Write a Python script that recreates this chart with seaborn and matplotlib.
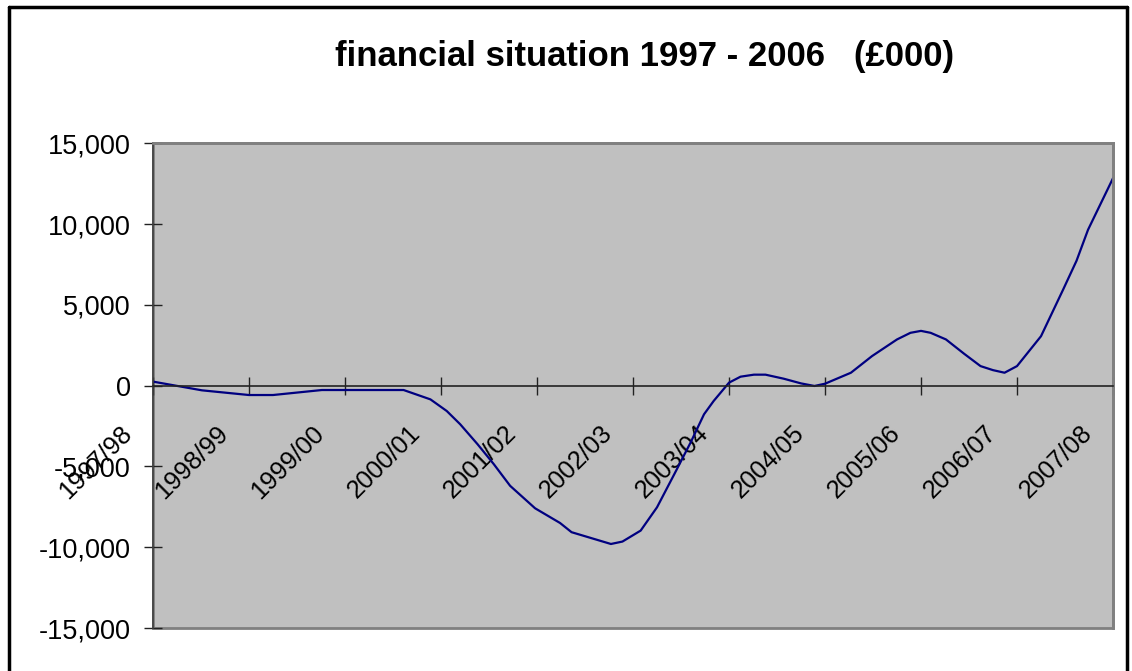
import matplotlib
matplotlib.use("Agg")
import matplotlib.pyplot as plt
import matplotlib.transforms as mtransforms
from matplotlib.lines import Line2D
from matplotlib.patches import Rectangle
from matplotlib.ticker import FuncFormatter
import seaborn as sns

# category labels (one per financial year)
years = ["1997/98", "1998/99", "1999/00", "2000/01", "2001/02", "2002/03",
         "2003/04", "2004/05", "2005/06", "2006/07", "2007/08"]

# points (position in years from 1997/98, £000)
pos = [0.00, 0.51, 1.00, 1.25, 1.76, 2.00, 2.61, 2.89, 3.06, 3.20, 3.38,
       3.55, 3.72, 3.98, 4.24, 4.36, 4.77, 4.89, 5.08, 5.25, 5.43, 5.60,
       5.74, 5.84, 6.00, 6.12, 6.26, 6.38, 6.57, 6.75, 6.89, 7.00, 7.27,
       7.49, 7.75, 7.89, 8.00, 8.10, 8.26, 8.45, 8.62, 8.75, 8.87, 9.00,
       9.25, 9.48, 9.62, 9.74, 10.00]
balance = [250, -290, -580, -580, -270, -270, -270, -850, -1570, -2390, -3620,
           -4860, -6200, -7590, -8500, -9070, -9800, -9650, -8970, -7530, -5480, -3520,
           -1770, -950, 185, 555, 680, 680, 430, 140, -20, 120, 800,
           1830, 2860, 3270, 3390, 3270, 2860, 1970, 1210, 960, 800, 1210,
           3060, 5940, 7730, 9650, 12840]

yticks = [-15000, -10000, -5000, 0, 5000, 10000, 15000]

sns.set_style("white")
plt.rcParams['font.family'] = ['Liberation Sans', 'DejaVu Sans']
plt.rcParams['text.color'] = 'black'
plt.rcParams['xtick.color'] = 'black'
plt.rcParams['ytick.color'] = 'black'

fig = plt.figure(figsize=(11.32, 6.71), dpi=100)
ax = fig.add_axes([0.13516, 0.06408, 0.84806, 0.72236])
ax.set_facecolor("#c0c0c0")

sns.lineplot(x=pos, y=balance, sort=False, color="#000080", linewidth=1.6, ax=ax)

# category axis crosses at zero (do this before tick labels, it resets ticks)
ax.spines["bottom"].set_position(("data", 0))
ax.spines["bottom"].set_color("#222222")
ax.spines["bottom"].set_linewidth(1.2)
ax.spines["left"].set_color("#404040")
ax.spines["left"].set_linewidth(1.2)
for s in ["top", "right"]:
    ax.spines[s].set_color("#808080")
    ax.spines[s].set_linewidth(2)
ax.add_patch(Rectangle((0, 0), 1, 1, transform=ax.transAxes, fill=False,
                       edgecolor="#808080", linewidth=2, clip_on=False, zorder=0.5))

ax.set_xlim(0, 10)
ax.set_ylim(-15000, 15000)
ax.set_yticks(yticks)
ax.yaxis.set_major_formatter(FuncFormatter(lambda v, p: f"{int(v):,}"))
ax.set_xticks(range(len(years)))
ax.tick_params(axis="y", left=True, direction="inout", length=12.7, width=1,
               color="#222222", labelsize=19.5, pad=9.5, labelcolor="black")
ax.tick_params(axis="x", bottom=True, direction="inout", length=13, width=1,
               color="#222222", pad=19, labelcolor="black")
ax.set_xticklabels(years, rotation=45, ha="right", va="top", fontsize=18.3)
ax.set_xlabel("")
ax.set_ylabel("")

shift = mtransforms.ScaledTranslation(-16 / 100, 0, fig.dpi_scale_trans)
for lab in ax.get_xticklabels():
    lab.set_transform(lab.get_transform() + shift)

fig.text(335 / 1132, 1 - 66 / 671, "financial situation 1997 - 2006   (£000)",
         fontsize=25, fontweight="bold", ha="left", va="baseline", color="black")

# chart area frame
for xs, ys in [((9 / 1132, 9 / 1132), (0, 1 - 7 / 671)),
               ((9 / 1132, 1127 / 1132), (1 - 7 / 671, 1 - 7 / 671)),
               ((1127 / 1132, 1127 / 1132), (0, 1 - 7 / 671))]:
    fig.add_artist(Line2D(xs, ys, color="black", linewidth=2.5))

fig.savefig("out.png", dpi=100)
